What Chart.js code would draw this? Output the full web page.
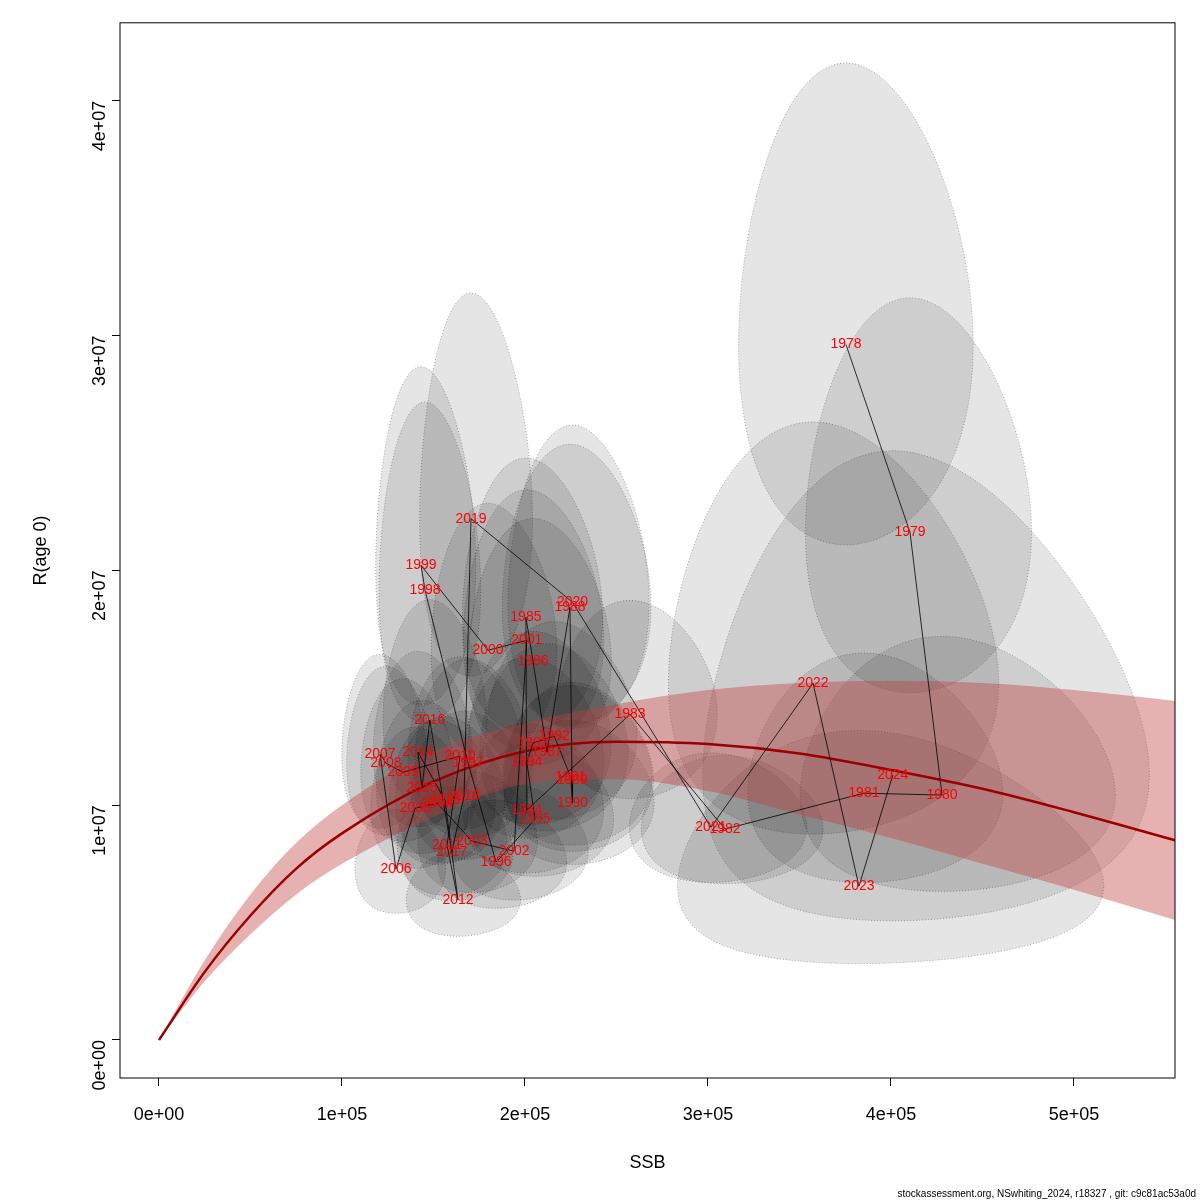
<!DOCTYPE html>
<html>
<head>
<meta charset="utf-8">
<script src="https://cdn.jsdelivr.net/npm/chart.js@4"></script>
<style>
  body { margin: 0; background: #fff; }
  #wrap { width: 1200px; height: 1200px; position: relative; }
</style>
</head>
<body>
<div id="wrap"><canvas id="srChart"></canvas></div>
<script>
// Stock-recruitment: SSB vs recruits (age 0), with confidence ellipses
const years = [1978,1979,1980,1981,1982,1983,1984,1985,1986,1987,1988,1989,1990,1991,1992,1993,1994,1995,1996,1997,
               1998,1999,2000,2001,2002,2003,2004,2005,2006,2007,2008,2009,2010,2011,2012,2013,2014,2015,2016,2017,
               2018,2019,2020,2021,2022,2023,2024];
const ssb = [375400,410400,427900,385200,309300,257400,201000,200500,204400,212000,224600,225700,226000,225000,216000,204400,201000,205500,184200,168900,
             145400,143200,179800,201000,194000,171000,152000,140000,129500,120800,124000,133300,164500,157400,163400,156300,141500,143700,148000,160000,
             166700,170500,226000,301600,357400,382500,401000];
const recruits = [29.62e6,21.62e6,10.43e6,10.51e6,8.98e6,13.87e6,9.79e6,18.0e6,16.13e6,12.26e6,18.43e6,11.06e6,10.09e6,11.19e6,12.94e6,12.64e6,11.83e6,9.40e6,7.57e6,11.79e6,
                  19.15e6,20.21e6,16.6e6,17.02e6,8.04e6,8.47e6,10.09e6,9.87e6,7.28e6,12.17e6,11.79e6,11.4e6,12.09e6,8.3e6,5.96e6,10.21e6,12.26e6,10.72e6,13.62e6,8.0e6,
                  10.38e6,22.2e6,18.64e6,9.06e6,15.19e6,6.55e6,11.28e6];
// log-scale half widths of the ellipses
const sdLogSSB = [0.17,0.15,0.20,0.18,0.16,0.17,0.19,0.19,0.19,0.19,0.18,0.18,0.18,0.18,0.19,0.19,0.19,0.19,0.19,0.19,
                  0.19,0.19,0.19,0.19,0.19,0.19,0.19,0.19,0.19,0.19,0.19,0.19,0.19,0.19,0.19,0.19,0.19,0.19,0.19,0.19,
                  0.19,0.18,0.17,0.16,0.25,0.30,0.30];
const sdLogR = [0.34,0.38,0.50,0.45,0.30,0.30,0.32,0.32,0.32,0.32,0.32,0.32,0.30,0.30,0.32,0.32,0.32,0.30,0.30,0.32,
                0.35,0.35,0.32,0.32,0.30,0.30,0.30,0.30,0.30,0.30,0.30,0.30,0.30,0.30,0.30,0.30,0.30,0.30,0.32,0.30,
                0.30,0.36,0.34,0.30,0.55,0.70,0.80];

// fitted curve and band
const curveSSB = [0,25000,50000,75000,100000,150000,200000,250000,300000,350000,400000,450000,500000,560000];
const curveMid = [0,2.9e6,5.3e6,7.3e6,8.8e6,11.0e6,12.3e6,12.7e6,12.6e6,12.2e6,11.5e6,10.7e6,9.7e6,8.4e6];
const curveHi  = [0,3.4e6,6.2e6,8.4e6,10.0e6,12.3e6,13.5e6,14.3e6,14.9e6,15.2e6,15.3e6,15.2e6,14.9e6,14.4e6];
const curveLo  = [0,2.5e6,4.5e6,6.2e6,7.5e6,9.5e6,10.9e6,11.1e6,10.6e6,9.6e6,8.6e6,7.5e6,6.4e6,5.0e6];

const xTicks = [0,100000,200000,300000,400000,500000];
const yTicks = [0,1e7,2e7,3e7,4e7];
const fmt = v => {
    if (v === 0) return '0e+00';
    const e = Math.floor(Math.log10(v));
    return (v / Math.pow(10, e)) + 'e+' + String(e).padStart(2, '0');
};

function ellipse(i) {
    const pts = [];
    for (let k = 0; k <= 72; k++) {
        const t = k / 72 * 2 * Math.PI;
        pts.push({ x: ssb[i] * Math.exp(sdLogSSB[i] * Math.cos(t)),
                   y: recruits[i] * Math.exp(sdLogR[i] * Math.sin(t)) });
    }
    return pts;
}

const datasets = [];
years.forEach((yr, i) => {
    datasets.push({
        data: ellipse(i), showLine: true, pointRadius: 0, tension: 0,
        borderColor: 'rgba(0,0,0,0.45)', borderWidth: 0.7, borderDash: [1, 2],
        backgroundColor: 'rgba(0,0,0,0.1)', fill: 'shape', order: 4
    });
});
datasets.push({
    data: curveSSB.map((s, i) => ({ x: s, y: curveHi[i] })), showLine: true, pointRadius: 0,
    borderWidth: 0, backgroundColor: 'rgba(190,60,60,0.4)', fill: '+1', order: 3, cubicInterpolationMode: 'monotone'
});
datasets.push({
    data: curveSSB.map((s, i) => ({ x: s, y: curveLo[i] })), showLine: true, pointRadius: 0,
    borderWidth: 0, fill: false, order: 3, cubicInterpolationMode: 'monotone'
});
datasets.push({
    data: curveSSB.map((s, i) => ({ x: s, y: curveMid[i] })), showLine: true, pointRadius: 0,
    borderColor: '#9b0000', borderWidth: 2.5, fill: false, order: 2, cubicInterpolationMode: 'monotone'
});
datasets.push({
    data: ssb.map((s, i) => ({ x: s, y: recruits[i] })), showLine: true, pointRadius: 0,
    borderColor: '#000', borderWidth: 0.8, fill: false, order: 1
});

const yearLabels = {
    id: 'yearLabels',
    afterDatasetsDraw(chart) {
        const { ctx, scales: { x, y }, chartArea: a } = chart;
        ctx.save();
        ctx.beginPath();
        ctx.rect(a.left, a.top, a.right - a.left, a.bottom - a.top);
        ctx.clip();
        ctx.fillStyle = '#ff0000';
        ctx.font = '14px "Liberation Sans", Arial, sans-serif';
        ctx.textAlign = 'center';
        ctx.textBaseline = 'middle';
        years.forEach((yr, i) => ctx.fillText(String(yr), x.getPixelForValue(ssb[i]), y.getPixelForValue(recruits[i])));
        ctx.restore();
        // box
        ctx.save();
        ctx.strokeStyle = '#000';
        ctx.lineWidth = 1;
        ctx.strokeRect(a.left, a.top, a.right - a.left, a.bottom - a.top);
        ctx.font = '10px "Liberation Sans", Arial, sans-serif';
        ctx.fillStyle = '#000';
        ctx.textAlign = 'right';
        ctx.textBaseline = 'alphabetic';
        ctx.fillText('stockassessment.org, NSwhiting_2024, r18327 , git: c9c81ac53a0d', 1196, 1197);
        ctx.restore();
    }
};

new Chart(document.getElementById('srChart'), {
    type: 'scatter',
    data: { datasets },
    plugins: [yearLabels],
    options: {
        responsive: true,
        maintainAspectRatio: false,
        animation: false,
        layout: { padding: { top: 22, right: 25, left: 26, bottom: 22 } },
        plugins: { legend: { display: false }, tooltip: { enabled: false } },
        scales: {
            x: {
                type: 'linear', min: -21300, max: 555200,
                afterFit: s => { s.height = 100; },
                afterBuildTicks: s => { s.ticks = xTicks.map(v => ({ value: v })); },
                border: { display: false },
                grid: { drawOnChartArea: false, tickLength: 8, color: '#000' },
                ticks: { color: '#000', padding: 18, font: { size: 18, family: '"Liberation Sans", Arial' }, callback: fmt, maxRotation: 0 },
                title: { display: true, text: 'SSB', color: '#000', font: { size: 18, family: '"Liberation Sans", Arial' }, padding: { top: 18 } }
            },
            y: {
                type: 'linear', min: -1.62e6, max: 4.332e7,
                afterFit: s => { s.width = 94; },
                afterBuildTicks: s => { s.ticks = yTicks.map(v => ({ value: v })); },
                border: { display: false },
                grid: { drawOnChartArea: false, tickLength: 8, color: '#000' },
                ticks: { color: '#000', padding: 12, font: { size: 18, family: '"Liberation Sans", Arial' }, callback: fmt, minRotation: 90, maxRotation: 90 },
                title: { display: true, text: 'R(age 0)', color: '#000', font: { size: 18, family: '"Liberation Sans", Arial' }, padding: { bottom: 20 } }
            }
        }
    }
});
</script>
</body>
</html>
